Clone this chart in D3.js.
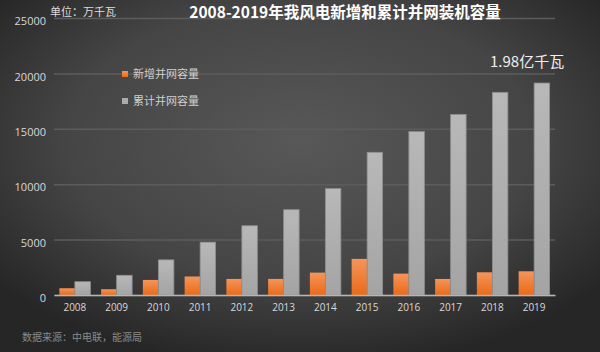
<!DOCTYPE html>
<html>
<head>
<meta charset="utf-8">
<script src="https://cdn.jsdelivr.net/npm/d3@7"></script>
<style>
  html, body { margin: 0; padding: 0; background: #333; }
  svg { display: block; font-family: "Noto Sans CJK SC", "Noto Sans", sans-serif; }
</style>
</head>
<body>
<div class="chart"></div>
<script>
// ======= wind power: new vs cumulative grid capacity =======

const years = ['2008', '2009', '2010', '2011', '2012', '2013', '2014', '2015', '2016', '2017', '2018', '2019']
const newCap = [610, 520, 1360, 1670, 1450, 1450, 2020, 3260, 1930, 1450, 2050, 2140]
const cumCap = [1200, 1780, 3170, 4770, 6250, 7700, 9610, 12880, 14750, 16300, 18290, 19130]
const yTicks = [0, 5000, 10000, 15000, 20000, 25000]
const seriesNames = ['新增并网容量', '累计并网容量']

const W = 600
const H = 352
const margin = { top: 18, right: 45, bottom: 57, left: 54 }
const width = W - margin.left - margin.right
const height = H - margin.top - margin.bottom

const svg = d3.select('.chart')
  .append('svg')
    .attr('width', W)
    .attr('height', H)

const defs = svg.append('defs')

const bg = defs.append('radialGradient')
  .attr('id', 'bg')
  .attr('cx', '50%').attr('cy', '40%').attr('r', '65%')
bg.append('stop').attr('offset', '0%').attr('stop-color', '#585858')
bg.append('stop').attr('offset', '60%').attr('stop-color', '#454545')
bg.append('stop').attr('offset', '100%').attr('stop-color', '#262626')

const orangeGrad = defs.append('linearGradient')
  .attr('id', 'orange').attr('x1', 0).attr('y1', 0).attr('x2', 0).attr('y2', 1)
orangeGrad.append('stop').attr('offset', '0%').attr('stop-color', '#f4955a')
orangeGrad.append('stop').attr('offset', '100%').attr('stop-color', '#ea6a18')

const grayGrad = defs.append('linearGradient')
  .attr('id', 'gray').attr('x1', 0).attr('y1', 0).attr('x2', 0).attr('y2', 1)
grayGrad.append('stop').attr('offset', '0%').attr('stop-color', '#b8b8b8')
grayGrad.append('stop').attr('offset', '100%').attr('stop-color', '#a4a4a4')

svg.append('rect')
  .attr('width', W)
  .attr('height', H)
  .attr('fill', 'url(#bg)')

const g = svg.append('g')
  .attr('transform', `translate(${margin.left}, ${margin.top})`)

const x = d3.scaleBand()
  .domain(years)
  .range([0, width])

const y = d3.scaleLinear()
  .domain([0, 25000])
  .range([height, 0])

// grid + y labels
const yAxis = d3.axisLeft(y)
  .tickValues(yTicks)
  .tickSize(-width)
  .tickPadding(8)
  .tickFormat(d3.format('d'))

g.append('g')
  .call(yAxis)
  .call(s => s.select('.domain').remove())
  .call(s => s.selectAll('.tick line')
    .attr('stroke', '#5c5c5c')
    .attr('stroke-width', 1.5))
  .call(s => s.selectAll('.tick text')
    .attr('fill', '#d8d8d8')
    .attr('dy', '0.6em')
    .style('font-size', '11px')
    .style('font-family', '"Open Sans", "Noto Sans", sans-serif'))

const barW = 15.5

// new capacity bars (left of category centre)
g.append('g')
  .selectAll('rect')
  .data(years)
  .join('rect')
    .attr('x', d => x(d) + x.bandwidth() / 2 - barW)
    .attr('y', (d, i) => y(newCap[i]))
    .attr('width', barW)
    .attr('height', (d, i) => height - y(newCap[i]))
    .attr('fill', 'url(#orange)')

// cumulative bars (right of category centre)
g.append('g')
  .selectAll('rect')
  .data(years)
  .join('rect')
    .attr('x', d => x(d) + x.bandwidth() / 2)
    .attr('y', (d, i) => y(cumCap[i]))
    .attr('width', barW)
    .attr('height', (d, i) => height - y(cumCap[i]))
    .attr('fill', 'url(#gray)')
    .attr('stroke', '#8e8e8e')
    .attr('stroke-width', 0.8)

// x axis
const xAxis = d3.axisBottom(x)
  .tickSize(0)
  .tickPadding(9)

g.append('g')
  .attr('transform', `translate(0, ${height})`)
  .call(xAxis)
  .call(s => s.select('.domain')
    .attr('stroke', '#b5b5b5')
    .attr('stroke-width', 1.5))
  .call(s => s.selectAll('.tick text')
    .attr('fill', '#d8d8d8')
    .style('font-size', '10px')
    .style('font-family', '"Open Sans", "Noto Sans", sans-serif'))

// title and notes
svg.append('text')
  .attr('x', 345)
  .attr('y', 18)
  .attr('text-anchor', 'middle')
  .attr('fill', '#ffffff')
  .style('font-size', '15.5px')
  .style('font-weight', 'bold')
  .text('2008-2019年我风电新增和累计并网装机容量')

svg.append('text')
  .attr('x', 50)
  .attr('y', 16)
  .attr('fill', '#dddddd')
  .style('font-size', '11px')
  .text('单位：万千瓦')

svg.append('text')
  .attr('x', 490)
  .attr('y', 67)
  .attr('fill', '#eeeeee')
  .style('font-size', '15px')
  .text('1.98亿千瓦')

svg.append('text')
  .attr('x', 22)
  .attr('y', 341)
  .attr('fill', '#8a8a8a')
  .style('font-size', '10px')
  .text('数据来源：中电联，能源局')

// legend
const legend = svg.append('g')
  .attr('transform', 'translate(122, 71)')

const legendItems = legend.selectAll('g')
  .data(seriesNames)
  .join('g')
    .attr('transform', (d, i) => `translate(0, ${i * 27})`)

legendItems.append('rect')
  .attr('width', 6)
  .attr('height', 6)
  .attr('fill', (d, i) => i === 0 ? 'url(#orange)' : '#ababab')

legendItems.append('text')
  .attr('x', 11)
  .attr('y', 3)
  .attr('dy', '0.35em')
  .attr('fill', '#cfcfcf')
  .style('font-size', '11px')
  .text(d => d)
</script>
</body>
</html>
